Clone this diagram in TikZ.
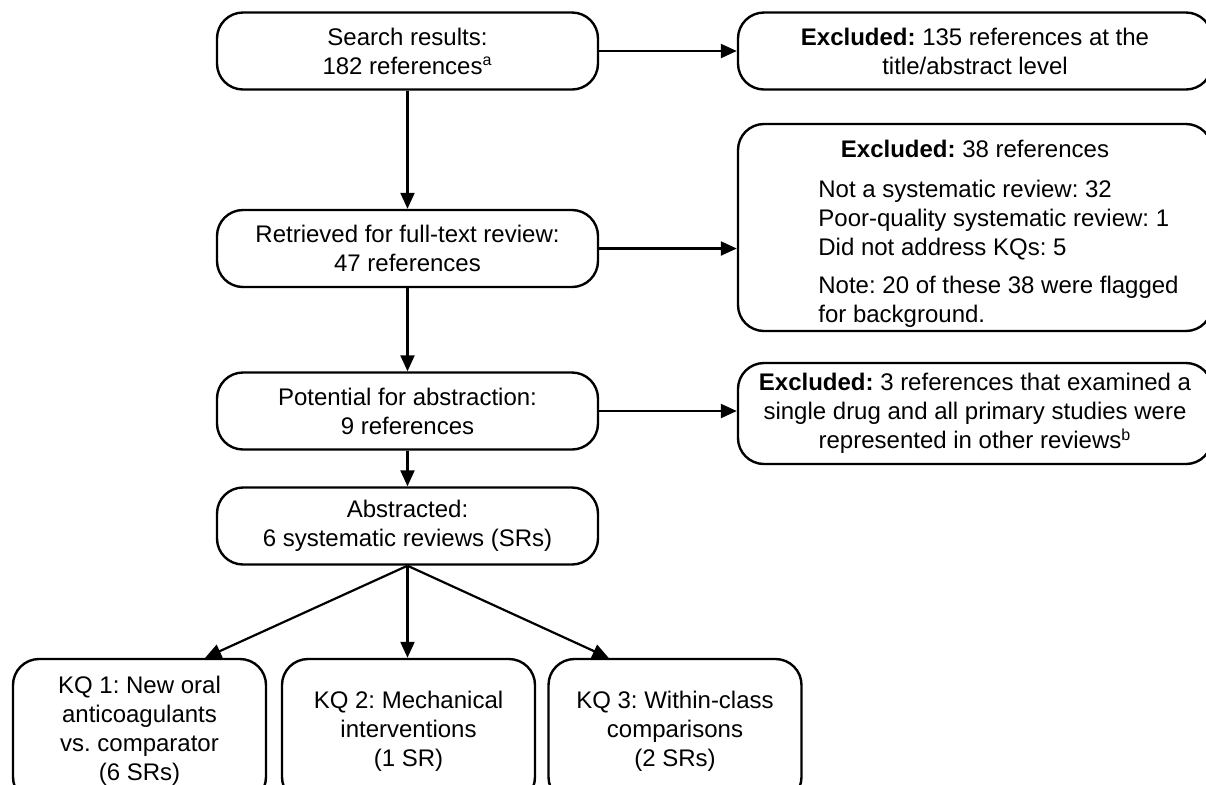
\documentclass[tikz,border=0pt]{standalone}
\usepackage{fontspec}
\setmainfont{Liberation Sans}
\frenchspacing
\usetikzlibrary{arrows.meta,calc}

\tikzset{
  flowbox/.style={draw, line width=1.2pt, rounded corners=13pt, align=center,
    inner sep=0pt, minimum width=190.5pt, minimum height=38.5pt,
    font=\fontsize{12}{14.5}\selectfont},
  exclbox/.style={flowbox, minimum width=237pt},
  kqbox/.style={flowbox, minimum width=126.5pt, minimum height=72pt},
  txt/.style={inner sep=0pt, font=\fontsize{12}{14.5}\selectfont},
  flowarrow/.style={line width=1.1pt, -{Triangle[length=8pt,width=7pt]}}
}

\begin{document}
\begin{tikzpicture}[x=0.5pt, y=-0.5pt]
\useasboundingbox (0,0) rectangle (1206,784);

% main column
\node[flowbox] (search) at (407.5,51) {Search results:\\182 references\textsuperscript{a}};
\node[flowbox] (retr) at (407.5,248.5) {Retrieved for full-text review:\\47 references};
\node[flowbox] (pot) at (407.5,411) {Potential for abstraction:\\9 references};
\node[flowbox] (abs) at (407.5,526) {Abstracted:\\6 systematic reviews (SRs)};

% exclusions
\node[exclbox] (excl1) at (975,51) {\textbf{Excluded:} 135 references at the\\title/abstract level};
\node[exclbox, minimum height=103.5pt] (excl2) at (975,227.5) {};
\node[txt, anchor=base] (excl2head) at (975,157) {\textbf{Excluded:} 38 references};
\node[txt, align=left, anchor=north west] (excl2list) at (818,180) {Not a systematic review: 32\\Poor-quality systematic review: 1\\Did not address KQs: 5\\[4.5pt]Note: 20 of these 38 were flagged\\for background.};
\node[exclbox, minimum height=50.5pt] (excl3) at (975,413.5) {\textbf{Excluded:} 3 references that examined a\\single drug and all primary studies were\\represented in other reviews\textsuperscript{b}};

% key questions
\node[kqbox] (kq1) at (139.5,731) {KQ 1: New oral\\anticoagulants\\vs. comparator\\(6 SRs)};
\node[kqbox] (kq2) at (408.5,731) {KQ 2: Mechanical\\interventions\\(1 SR)};
\node[kqbox] (kq3) at (675,731) {KQ 3: Within-class\\comparisons\\(2 SRs)};

\coordinate (kq1in) at ($(kq1.north west)!0.757!(kq1.north east)$);
\coordinate (kq3in) at ($(kq3.north west)!0.24!(kq3.north east)$);

\draw[flowarrow] (search) -- (retr);
\draw[flowarrow] (retr) -- (pot);
\draw[flowarrow] (pot) -- (abs);
\draw[flowarrow] (search) -- (excl1);
\draw[flowarrow] (retr.east) -- (retr.east -| excl2.west);
\draw[flowarrow] (pot.east) -- (pot.east -| excl3.west);
\draw[flowarrow] (abs.south) -- (kq1in);
\draw[flowarrow] (abs.south) -- (abs.south |- kq2.north);
\draw[flowarrow] (abs.south) -- (kq3in);
\end{tikzpicture}
\end{document}
